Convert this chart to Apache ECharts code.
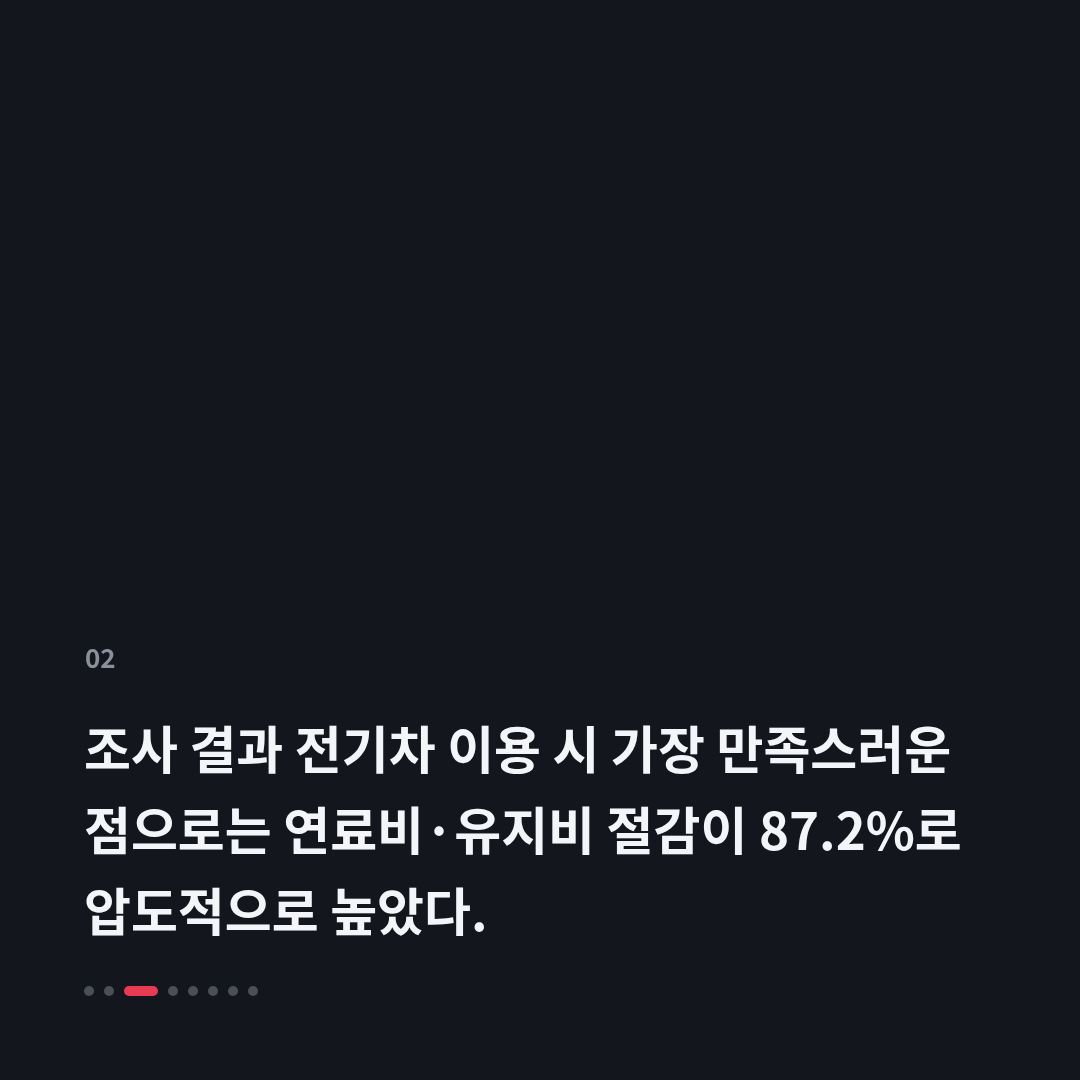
<!DOCTYPE html>
<html>
<head>
<meta charset="utf-8">
<script src="https://cdn.jsdelivr.net/npm/echarts@6/dist/echarts.min.js"></script>
<style>
html,body{margin:0;padding:0;background:#13161d;}
#main{width:1080px;height:1080px;}
</style>
</head>
<body>
<div id="main"></div>
<script>
var pageNo = '02';
var titleLines = [
    '조사 결과 전기차 이용 시 가장 만족스러운',
    '점으로는 연료비·유지비 절감이 87.2%로',
    '압도적으로 높았다.'
];
var pageCount = 8;
var activePage = 2;

var chart = echarts.init(document.getElementById('main'));

var font = '"Noto Sans CJK KR", "Noto Sans", sans-serif';
var elements = [];

elements.push({
    type: 'text',
    x: 85,
    y: 658,
    style: {
        text: pageNo,
        fill: '#8a919c',
        font: '600 26px ' + font,
        verticalAlign: 'middle'
    }
});

titleLines.forEach(function (line, i) {
    elements.push({
        type: 'text',
        x: 84,
        y: 750 + i * 81,
        style: {
            text: line,
            fill: '#f4f5f8',
            font: 'bold 51px ' + font,
            verticalAlign: 'middle'
        }
    });
});

// pagination dots
var x = 84;
for (var p = 0; p < pageCount; p++) {
    var w = p === activePage ? 34 : 10;
    elements.push({
        type: 'rect',
        shape: {x: x, y: 986, width: w, height: 10, r: 5},
        style: {fill: p === activePage ? '#e83a52' : '#4b4f56'}
    });
    x += w + 10;
}

chart.setOption({
    backgroundColor: '#13161d',
    graphic: elements
});
</script>
</body>
</html>
